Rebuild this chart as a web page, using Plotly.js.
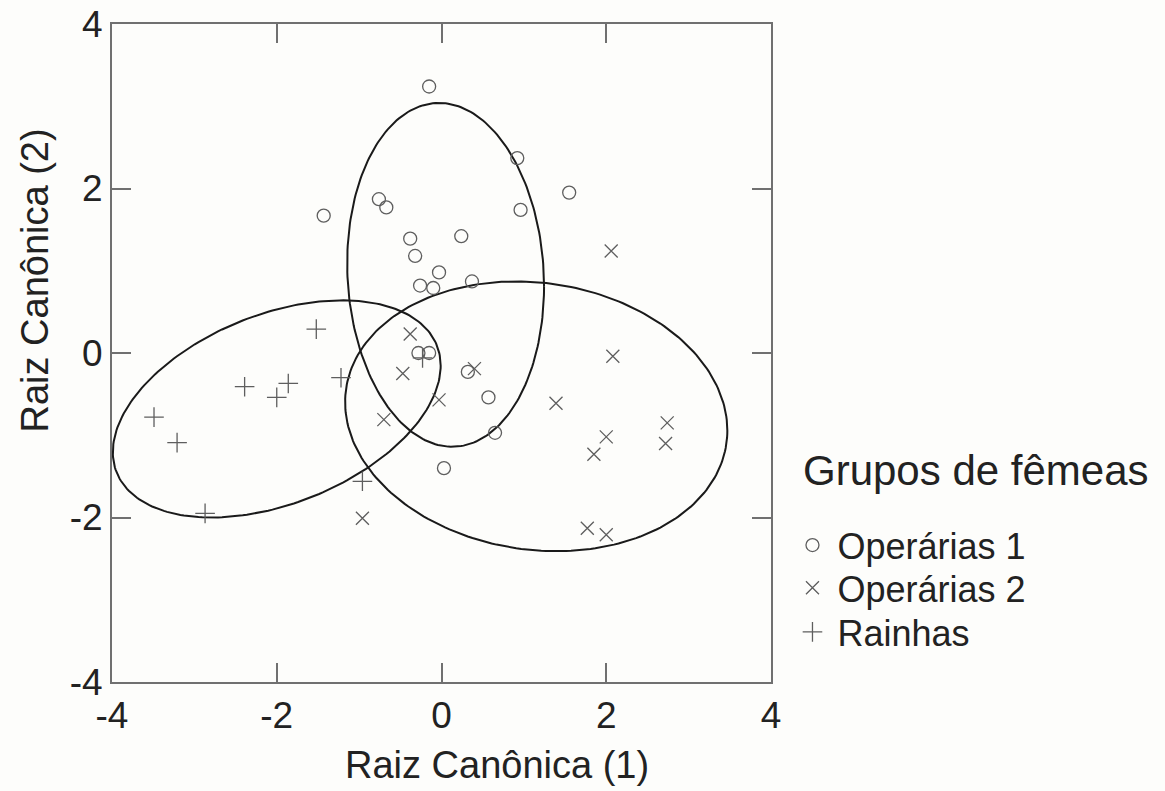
<!DOCTYPE html>
<html>
<head>
<meta charset="utf-8">
<script src="https://cdn.plot.ly/plotly-3.0.1.min.js"></script>
<style>
  html, body { margin: 0; padding: 0; background: #fdfdfb; }
  #chart { width: 1165px; height: 791px; }
</style>
</head>
<body>
<div id="chart"></div>
<script>
// Canonical scores per female group
const op1X = [-0.15, -1.43, -0.76, -0.67, -0.38, -0.32, -0.03, -0.26, -0.10, -0.28, -0.15, 0.92, 1.55, 0.96, 0.24, 0.37, 0.32, 0.57, 0.65, 0.03];
const op1Y = [3.24, 1.67, 1.87, 1.77, 1.39, 1.18, 0.98, 0.82, 0.79, 0.00, 0.00, 2.37, 1.95, 1.74, 1.42, 0.87, -0.23, -0.54, -0.97, -1.40];

const op2X = [2.06, -0.38, -0.47, 0.40, 2.08, -0.03, 1.39, 2.74, 2.00, 2.72, 1.85, 1.77, 2.00, -0.70, -0.96];
const op2Y = [1.24, 0.23, -0.25, -0.19, -0.04, -0.57, -0.61, -0.85, -1.02, -1.10, -1.23, -2.13, -2.21, -0.81, -2.01];

const rainX = [-1.52, -2.39, -1.86, -2.00, -1.22, -3.49, -3.21, -2.87, -0.96, -0.23];
const rainY = [0.29, -0.41, -0.37, -0.54, -0.30, -0.78, -1.09, -1.95, -1.56, -0.06];

// Group ellipses: centre, half-extent along x and y, and x–y correlation
const ellCx = [0.05, 1.15, -2.00];
const ellCy = [0.95, -0.77, -0.68];
const ellSx = [1.195, 2.32, 1.99];
const ellSy = [2.09, 1.64, 1.32];
const ellR  = [-0.067, -0.105, 0.398];

const groupNames = ['Operárias 1', 'Operárias 2', 'Rainhas'];
const legendTitle = 'Grupos de fêmeas';
const xTitle = 'Raiz Canônica (1)';
const yTitle = 'Raiz Canônica (2)';
const tickVals = [-4, -2, 0, 2, 4];
const tickText = ['-4', '-2', '0', '2', '4'];

const FONT = '"Liberation Sans", Arial, sans-serif';
const textColor = '#222';
const frameColor = '#707070';
const markColor = '#5e5e5e';

function ellipseTrace(i) {
  const xs = [], ys = [];
  const n = 240;
  const k = Math.sqrt(1 - ellR[i] * ellR[i]);
  for (let j = 0; j <= n; j++) {
    const t = 2 * Math.PI * j / n;
    xs.push(ellCx[i] + ellSx[i] * Math.cos(t));
    ys.push(ellCy[i] + ellSy[i] * (ellR[i] * Math.cos(t) + k * Math.sin(t)));
  }
  return {
    x: xs, y: ys, type: 'scatter', mode: 'lines',
    line: { color: '#1a1a1a', width: 2 },
    showlegend: false, hoverinfo: 'skip'
  };
}

function pointTrace(x, y, name, symbol, size, legendId) {
  return {
    x: x, y: y, name: name, type: 'scatter', mode: 'markers',
    legend: legendId,
    marker: { symbol: symbol, size: size, color: markColor,
              line: { color: markColor, width: 1.3 } }
  };
}

const traces = [
  ellipseTrace(0), ellipseTrace(1), ellipseTrace(2),
  pointTrace(op1X, op1Y, groupNames[0], 'circle-open', 13, 'legend'),
  pointTrace(op2X, op2Y, groupNames[1], 'x-thin-open', 13, 'legend2'),
  pointTrace(rainX, rainY, groupNames[2], 'cross-thin-open', 14, 'legend3')
];

const axisCommon = {
  range: [-4, 4],
  tickmode: 'array', tickvals: tickVals, ticktext: tickText,
  ticks: 'inside', ticklen: 19, tickwidth: 2, tickcolor: frameColor,
  showline: true, linecolor: frameColor, linewidth: 2, mirror: 'ticks',
  showgrid: false, zeroline: false,
  tickfont: { family: FONT, size: 37, color: textColor }
};

// one single-entry legend per group, stacked under the legend heading
function legendBox(y) {
  return {
    x: 1.025, y: y, xanchor: 'left', yanchor: 'middle',
    bgcolor: 'rgba(0,0,0,0)', borderwidth: 0,
    font: { family: FONT, size: 36, color: textColor },
    itemwidth: 40
  };
}

const layout = {
  width: 1165, height: 791,
  margin: { l: 112, r: 394, t: 24, b: 109 },
  paper_bgcolor: '#fdfdfb', plot_bgcolor: '#fdfdfb',
  xaxis: Object.assign({}, axisCommon),
  yaxis: Object.assign({}, axisCommon),
  showlegend: true,
  legend: legendBox(0.208),
  legend2: legendBox(0.143),
  legend3: legendBox(0.076),
  annotations: [
    { text: xTitle, xref: 'paper', yref: 'paper', x: 0.584, y: -0.126,
      xanchor: 'center', yanchor: 'middle', showarrow: false,
      font: { family: FONT, size: 38, color: textColor } },
    { text: yTitle, xref: 'paper', yref: 'paper', x: -0.117, y: 0.61,
      xanchor: 'center', yanchor: 'middle', showarrow: false, textangle: -90,
      font: { family: FONT, size: 38, color: textColor } },
    { text: legendTitle, xref: 'paper', yref: 'paper', x: 1.046, y: 0.322,
      xanchor: 'left', yanchor: 'middle', showarrow: false,
      font: { family: FONT, size: 42, color: textColor } }
  ]
};

Plotly.newPlot('chart', traces, layout, { staticPlot: true, displayModeBar: false });
</script>
</body>
</html>
